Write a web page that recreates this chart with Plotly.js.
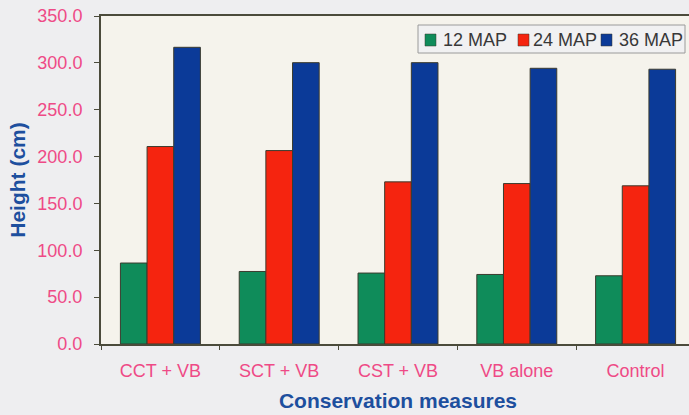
<!DOCTYPE html>
<html>
<head>
<meta charset="utf-8">
<script src="https://cdn.plot.ly/plotly-3.0.1.min.js"></script>
<style>
html,body{margin:0;padding:0;overflow:hidden;background:#eeeef0;}
#chart{width:700px;height:415px;}
</style>
</head>
<body>
<div id="chart"></div>
<script>
const categories = ["CCT + VB", "SCT + VB", "CST + VB", "VB alone", "Control"];
const seriesNames = ["12 MAP", "24 MAP", "36 MAP"];
const map12 = [86.4, 77.4, 75.7, 74.2, 72.8];
const map24 = [210.7, 206.4, 173.0, 171.2, 168.8];
const map36 = [316.6, 300.2, 300.2, 294.2, 293.2];
const yTickVals = [0, 50, 100, 150, 200, 250, 300, 350];

const colors = ["#0f8c5a", "#f5240f", "#0b3a98"];
const values = [map12, map24, map36];

const traces = values.map((v, i) => ({
  type: "bar",
  name: seriesNames[i],
  x: categories,
  y: v,
  marker: {color: colors[i], line: {color: "#3b3b2e", width: 1}}
}));

// plot area geometry (px)
const W = 700, H = 415;
const M = {l: 101, r: 5, t: 16, b: 71};
const pw = W - M.l - M.r, ph = H - M.t - M.b;
const px = x => (x - M.l) / pw;
const py = y => 1 - (y - M.t) / ph;

// hand-placed legend box (legend styling only, not data)
const legSquareX = [425, 518, 601];
const legTextX = [441, 531, 617];
const shapes = [{
  type: "rect", xref: "paper", yref: "paper",
  x0: px(418), x1: px(685), y0: py(53), y1: py(25),
  line: {color: "#9a9a9a", width: 1}, fillcolor: "#f1f1f2", layer: "above"
}];
const annotations = [];
seriesNames.forEach((name, i) => {
  shapes.push({
    type: "rect", xref: "paper", yref: "paper",
    x0: px(legSquareX[i]), x1: px(legSquareX[i] + 11),
    y0: py(46), y1: py(34),
    line: {color: "#3b3b2e", width: 0.5}, fillcolor: colors[i], layer: "above"
  });
  annotations.push({
    xref: "paper", yref: "paper",
    x: px(legTextX[i]), y: py(39.5),
    xanchor: "left", yanchor: "middle",
    text: name, showarrow: false,
    font: {size: 18, color: "#383838"}
  });
});

const layout = {
  width: W,
  height: H,
  margin: M,
  paper_bgcolor: "#eeeef0",
  plot_bgcolor: "#f5f3ec",
  barmode: "group",
  bargap: 0.327,
  bargroupgap: 0,
  font: {family: "Liberation Sans, Arial, sans-serif"},
  showlegend: false,
  shapes: shapes,
  annotations: annotations,
  xaxis: {
    type: "category",
    showline: true,
    linecolor: "#4b4b3b",
    linewidth: 2,
    mirror: true,
    ticks: "outside",
    tickson: "boundaries",
    ticklen: 4,
    tickcolor: "#4b4b3b",
    tickfont: {size: 18, color: "#ee4a86"},
    ticklabelstandoff: 9,
    showgrid: false,
    title: {text: "Conservation measures", font: {size: 21, color: "#1d4f9e", weight: "bold"}, standoff: 14}
  },
  yaxis: {
    range: [0, 350],
    tickvals: yTickVals,
    tickformat: ".1f",
    showline: true,
    linecolor: "#4b4b3b",
    linewidth: 2,
    mirror: true,
    ticks: "outside",
    ticklen: 5,
    tickcolor: "#4b4b3b",
    tickfont: {size: 18, color: "#ee4a86"},
    ticklabelstandoff: 8,
    showgrid: false,
    zeroline: false,
    title: {text: "Height (cm)", font: {size: 21, color: "#1d4f9e", weight: "bold"}, standoff: 6}
  }
};

Plotly.newPlot("chart", traces, layout, {displayModeBar: false, staticPlot: true});
</script>
</body>
</html>
